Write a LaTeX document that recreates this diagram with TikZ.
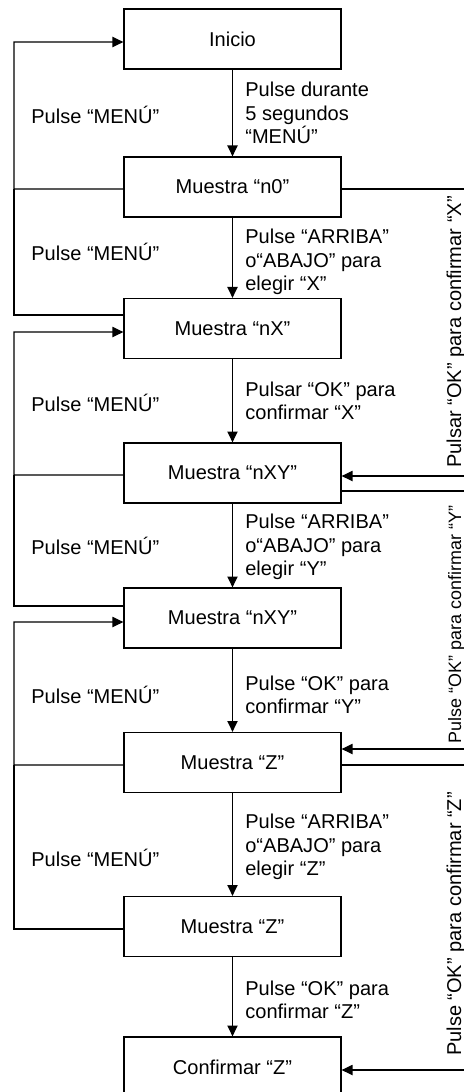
\documentclass[tikz,border=0pt]{standalone}
\usepackage{fontspec}
\setmainfont{Liberation Sans}
\usetikzlibrary{arrows.meta}

\begin{document}
\begin{tikzpicture}[every node/.style={font=\fontsize{11.4}{13.3}\selectfont},
  state/.style={draw,line width=.7pt,minimum width=4.34cm,minimum height=1.2cm,inner sep=0pt},
  lbl/.style={anchor=west,align=left,inner sep=0pt},
  side/.style={rotate=90,anchor=base,inner sep=0pt},
  link/.style={line width=.7pt},
  flow/.style={line width=.7pt,-{Triangle[length=6.2pt,width=5.8pt]}}]
\useasboundingbox (0,0) rectangle (9.28,-21.84);
\clip (0,0) rectangle (9.28,-21.84);
\node[state] (inicio) at (4.65,-0.78) {Inicio};
\node[state] (n0) at (4.65,-3.74) {Muestra “n0”};
\node[state] (nx) at (4.65,-6.57) {Muestra “nX”};
\node[state] (nxy) at (4.65,-9.46) {Muestra “nXY”};
\node[state] (nxyb) at (4.65,-12.36) {Muestra “nXY”};
\node[state] (zm) at (4.65,-15.25) {Muestra “Z”};
\node[state] (zb) at (4.65,-18.53) {Muestra “Z”};
\node[state] (conf) at (4.65,-21.34) {Confirmar “Z”};
\foreach \a/\b in {inicio/n0,n0/nx,nx/nxy,nxy/nxyb,nxyb/zm,zm/zb,zb/conf}
  \draw[flow] (\a) -- (\b);
\node[lbl] (t1) at (4.90,-2.26) {Pulse durante\\5 segundos\\“MENÚ”};
\node[lbl] (t2) at (4.90,-5.24) {Pulse “ARRIBA”\\o“ABAJO” para\\elegir “X”};
\node[lbl] (t3) at (4.90,-8.02) {Pulsar “OK” para\\confirmar “X”};
\node[lbl] (t4) at (4.90,-10.94) {Pulse “ARRIBA”\\o“ABAJO” para\\elegir “Y”};
\node[lbl] (t5) at (4.90,-13.90) {Pulse “OK” para\\confirmar “Y”};
\node[lbl] (t6) at (4.90,-16.94) {Pulse “ARRIBA”\\o“ABAJO” para\\elegir “Z”};
\node[lbl] (t7) at (4.90,-20.00) {Pulse “OK” para\\confirmar “Z”};
\node[lbl] (m1) at (0.62,-2.30) {Pulse “MENÚ”};
\node[lbl] (m2) at (0.62,-5.04) {Pulse “MENÚ”};
\node[lbl] (m3) at (0.62,-8.06) {Pulse “MENÚ”};
\node[lbl] (m4) at (0.62,-10.92) {Pulse “MENÚ”};
\node[lbl] (m5) at (0.62,-13.90) {Pulse “MENÚ”};
\node[lbl] (m6) at (0.62,-17.16) {Pulse “MENÚ”};
\coordinate (ra) at (0.28,-3.78);
\coordinate (rb) at (0.28,-9.50);
\coordinate (rc) at (0.28,-15.30);
\draw[flow] ([yshift=-0.04cm]n0.west) -- (ra) |- ([yshift=-0.06cm]inicio.west);
\draw[link] ([yshift=0.27cm]nx.west) -| (ra);
\draw[flow] ([yshift=-0.04cm]nxy.west) -- (rb) |- ([yshift=-0.07cm]nx.west);
\draw[link] ([yshift=0.24cm]nxyb.west) -| (rb);
\draw[flow] ([yshift=-0.05cm]zm.west) -- (rc) |- ([yshift=-0.08cm]nxyb.west);
\draw[link] ([yshift=-0.05cm]zb.west) -| (rc);
\coordinate (ea) at (9.28,-3.78);
\coordinate (eb) at (9.28,-9.52);
\coordinate (ec) at (9.28,-9.82);
\coordinate (ed) at (9.28,-14.98);
\coordinate (ee) at (9.28,-15.30);
\coordinate (ef) at (9.28,-21.40);
\draw[link] (n0.east |- ea) -- (ea);
\draw[flow] (eb) -- (eb -| nxy.east);
\draw[link] (nxy.east |- ec) -- (ec);
\draw[flow] (ed) -- (ed -| zm.east);
\draw[link] (zm.east |- ee) -- (ee);
\draw[flow] (ef) -- (ef -| conf.east);
\node[side] (s1) at (9.22,-6.64) {Pulsar “OK” para confirmar “X”};
\node[side,font=\fontsize{10.2}{12}\selectfont] (s2) at (9.22,-12.49) {Pulse “OK” para confirmar “Y”};
\node[side] (s3) at (9.22,-18.48) {Pulse “OK” para confirmar “Z”};
\end{tikzpicture}
\end{document}
